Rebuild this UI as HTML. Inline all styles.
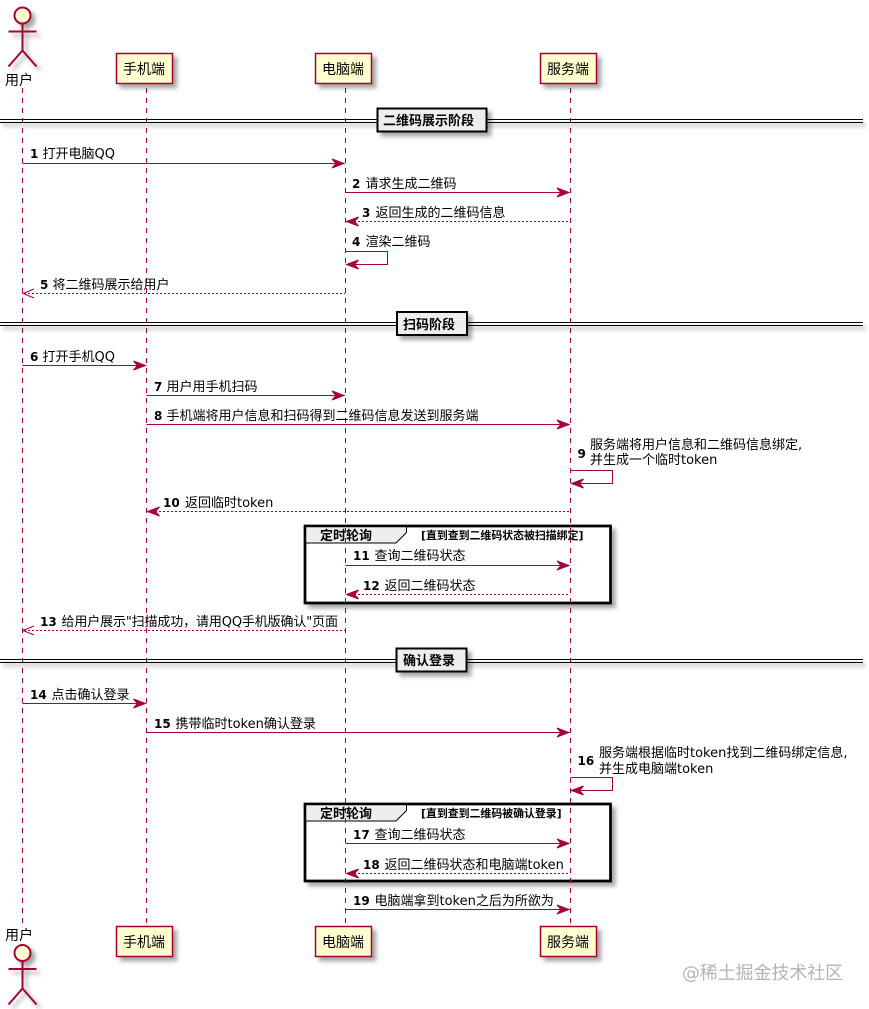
<!DOCTYPE html>
<html><head><meta charset="utf-8">
<style>
html,body{margin:0;padding:0;background:#fff;width:869px;height:1009px;overflow:hidden}
svg{display:block}
text{font-family:"DejaVu Sans","Noto Sans CJK SC",sans-serif;font-size:13px;fill:#000}
.b{font-weight:bold}
.n{font-weight:bold;font-size:12px}
.l{stroke:#A80036;stroke-width:1;fill:none}
.d{stroke-dasharray:2,2}
.ll{stroke:#A80036;stroke-width:1;stroke-dasharray:5,5;fill:none}
.a{fill:#A80036;stroke:#A80036;stroke-width:1}
.p{fill:#FEFECE;stroke:#A80036;stroke-width:1.5}
.ac{fill:#FEFECE;stroke:#A80036;stroke-width:2}
.al{fill:none;stroke:#A80036;stroke-width:2}
.s{fill:#EEEEEE;stroke:#000;stroke-width:2}
.g{fill:none;stroke:#000;stroke-width:2.5}
.gt{fill:#EEEEEE;stroke:#000;stroke-width:1}
</style></head><body>
<svg width="869" height="1009" viewBox="0 0 869 1009" xmlns="http://www.w3.org/2000/svg">
<defs>
<filter id="sh" x="-20%" y="-20%" width="150%" height="150%"><feDropShadow dx="4" dy="4" stdDeviation="2" flood-color="#000" flood-opacity="0.35"/></filter>
<filter id="shl" filterUnits="userSpaceOnUse" x="0" y="0" width="869" height="1009"><feDropShadow dx="3" dy="4" stdDeviation="1.500" flood-color="#000" flood-opacity="0.35"/></filter>
</defs>

<!-- group frames -->
<g filter="url(#sh)">
<rect x="305" y="526" width="305.500" height="77" fill="#fff" stroke="#000" stroke-width="2.500"/>
<rect x="305" y="804" width="305.500" height="77" fill="#fff" stroke="#000" stroke-width="2.500"/>
</g>
<path class="gt" d="M305 526H406.500V532.500L396 543H305Z"/>
<path class="gt" d="M305 804H406.500V810.500L396 821H305Z"/>
<rect class="g" x="305" y="526" width="305.500" height="77"/>
<rect class="g" x="305" y="804" width="305.500" height="77"/>
<text class="b" x="320" y="540">定时轮询</text>
<text class="b" x="421" y="539" style="font-size:10.900px">[直到查到二维码状态被扫描绑定]</text>
<text class="b" x="320" y="818">定时轮询</text>
<text class="b" x="421" y="817" style="font-size:10.900px">[直到查到二维码被确认登录]</text>

<!-- lifelines -->
<path class="ll" d="M22.500 88V923M146.500 88V923M345.500 88V923M570.500 88V923"/>

<!-- dividers -->
<g filter="url(#shl)">
<path d="M0 119.500H863M0 122.500H863M0 322.500H863M0 325.500H863M0 659.500H863M0 662.500H863" stroke="#000" stroke-width="1" fill="none"/>
</g>
<g filter="url(#sh)">
<rect class="s" x="377.500" y="108.500" width="109" height="23"/>
<rect class="s" x="397" y="312" width="70" height="23"/>
<rect class="s" x="396.500" y="648.500" width="70" height="23"/>
</g>
<text class="b" x="383" y="125">二维码展示阶段</text>
<text class="b" x="403" y="329">扫码阶段</text>
<text class="b" x="403" y="665">确认登录</text>

<!-- participants -->
<g filter="url(#sh)">
<rect class="p" x="116.500" y="53.500" width="56" height="30"/>
<rect class="p" x="315.500" y="53.500" width="56" height="30"/>
<rect class="p" x="540.500" y="53.500" width="56" height="30"/>
<rect class="p" x="116.500" y="926.500" width="56" height="30"/>
<rect class="p" x="315.500" y="926.500" width="56" height="30"/>
<rect class="p" x="540.500" y="926.500" width="56" height="30"/>
</g>
<text x="123" y="74" style="font-size:14px">手机端</text>
<text x="322" y="74" style="font-size:14px">电脑端</text>
<text x="547" y="74" style="font-size:14px">服务端</text>
<text x="123" y="947" style="font-size:14px">手机端</text>
<text x="322" y="947" style="font-size:14px">电脑端</text>
<text x="547" y="947" style="font-size:14px">服务端</text>

<!-- actors -->
<g filter="url(#sh)">
<circle class="ac" cx="22.500" cy="15.500" r="8"/>
<path class="al" d="M22.500 23.500V50.500M8.500 31.500H36.500M8.500 66.500L22.500 50.500L36.500 66.500"/>
<circle class="ac" cx="22.500" cy="953" r="8"/>
<path class="al" d="M22.500 961V988.500M8.500 969H36.500M8.500 1004.500L22.500 988.500L36.500 1004.500"/>
</g>
<text x="5" y="85" style="font-size:14px">用户</text>
<text x="5" y="940" style="font-size:14px">用户</text>

<!-- messages -->
<path class="l" d="M22.500 163.500H340"/><path class="a" d="M344 163.500L332 159L336 163.500L332 168Z"/>
<text class="n" x="30" y="158">1</text><text x="42.500" y="158">打开电脑QQ</text>

<path class="l" d="M345.500 192.500H565"/><path class="a" d="M569 192.500L557 188L561 192.500L557 197Z"/>
<text class="n" x="352" y="188">2</text><text x="365.500" y="188">请求生成二维码</text>

<path class="l d" d="M350 221.500H570"/><path class="a" d="M346.500 221.500L358.500 217L354.500 221.500L358.500 226Z"/>
<text class="n" x="362" y="217">3</text><text x="375.500" y="217">返回生成的二维码信息</text>

<path class="l" d="M345.500 251.500H387.500V264.500H350"/><path class="a" d="M346.500 264.500L358.500 260L354.500 264.500L358.500 269Z"/>
<text class="n" x="352" y="246">4</text><text x="365.500" y="246">渲染二维码</text>

<path class="l d" d="M24 293.500H345"/><path class="l" d="M34 289L23 293.500L34 298"/>
<text class="n" x="40" y="289">5</text><text x="52.500" y="289">将二维码展示给用户</text>

<path class="l" d="M22.500 365.500H142"/><path class="a" d="M145.500 365.500L133.500 361L137.500 365.500L133.500 370Z"/>
<text class="n" x="30" y="361">6</text><text x="42.500" y="361">打开手机QQ</text>

<path class="l" d="M146.500 395.500H340"/><path class="a" d="M344 395.500L332 391L336 395.500L332 400Z"/>
<text class="n" x="154" y="391">7</text><text x="166.500" y="391">用户用手机扫码</text>

<path class="l" d="M146.500 424.500H565"/><path class="a" d="M569 424.500L557 420L561 424.500L557 429Z"/>
<text class="n" x="154" y="420">8</text><text x="166.500" y="420">手机端将用户信息和扫码得到二维码信息发送到服务端</text>

<path class="l" d="M570.500 470.500H612.500V483.500H575"/><path class="a" d="M571.500 483.500L583.500 479L579.500 483.500L583.500 488Z"/>
<text class="n" x="577.500" y="458">9</text><text x="590" y="449">服务端将用户信息和二维码信息绑定,</text><text x="590" y="464">并生成一个临时token</text>

<path class="l d" d="M151 511.500H570"/><path class="a" d="M147.500 511.500L159.500 507L155.500 511.500L159.500 516Z"/>
<text class="n" x="163" y="507">10</text><text x="185" y="507">返回临时token</text>

<path class="l" d="M345.500 565.500H565"/><path class="a" d="M569 565.500L557 561L561 565.500L557 570Z"/>
<text class="n" x="353" y="560">11</text><text x="374.500" y="560">查询二维码状态</text>

<path class="l d" d="M350 594.500H570"/><path class="a" d="M346.500 594.500L358.500 590L354.500 594.500L358.500 599Z"/>
<text class="n" x="363" y="590">12</text><text x="384.500" y="590">返回二维码状态</text>

<path class="l d" d="M24 630.500H345"/><path class="l" d="M34 626L23 630.500L34 635"/>
<text class="n" x="40" y="626">13</text><text x="61.500" y="626" textLength="276.500" lengthAdjust="spacing">给用户展示"扫描成功&#xFF0C;请用QQ手机版确认"页面</text>

<path class="l" d="M22.500 703.500H142"/><path class="a" d="M145.500 703.500L133.500 699L137.500 703.500L133.500 708Z"/>
<text class="n" x="30" y="699">14</text><text x="51.500" y="699">点击确认登录</text>

<path class="l" d="M146.500 732.500H565"/><path class="a" d="M569 732.500L557 728L561 732.500L557 737Z"/>
<text class="n" x="154" y="728">15</text><text x="175.500" y="728">携带临时token确认登录</text>

<path class="l" d="M570.500 777.500H612.500V790.500H575"/><path class="a" d="M571.500 790.500L583.500 786L579.500 790.500L583.500 795Z"/>
<text class="n" x="577.500" y="765">16</text><text x="599" y="757">服务端根据临时token找到二维码绑定信息,</text><text x="599" y="773">并生成电脑端token</text>

<path class="l" d="M345.500 843.500H565"/><path class="a" d="M569 843.500L557 839L561 843.500L557 848Z"/>
<text class="n" x="353" y="839">17</text><text x="374.500" y="839">查询二维码状态</text>

<path class="l d" d="M350 873.500H570"/><path class="a" d="M346.500 873.500L358.500 869L354.500 873.500L358.500 878Z"/>
<text class="n" x="363" y="869">18</text><text x="384.500" y="869">返回二维码状态和电脑端token</text>

<path class="l" d="M345.500 909.500H565"/><path class="a" d="M569 909.500L557 905L561 909.500L557 914Z"/>
<text class="n" x="353" y="905">19</text><text x="374.500" y="905">电脑端拿到token之后为所欲为</text>

<!-- watermark -->
<text x="682" y="979" style="font-size:17.900px;fill:#b4b4b4">@稀土掘金技术社区</text>
</svg>
</body></html>
